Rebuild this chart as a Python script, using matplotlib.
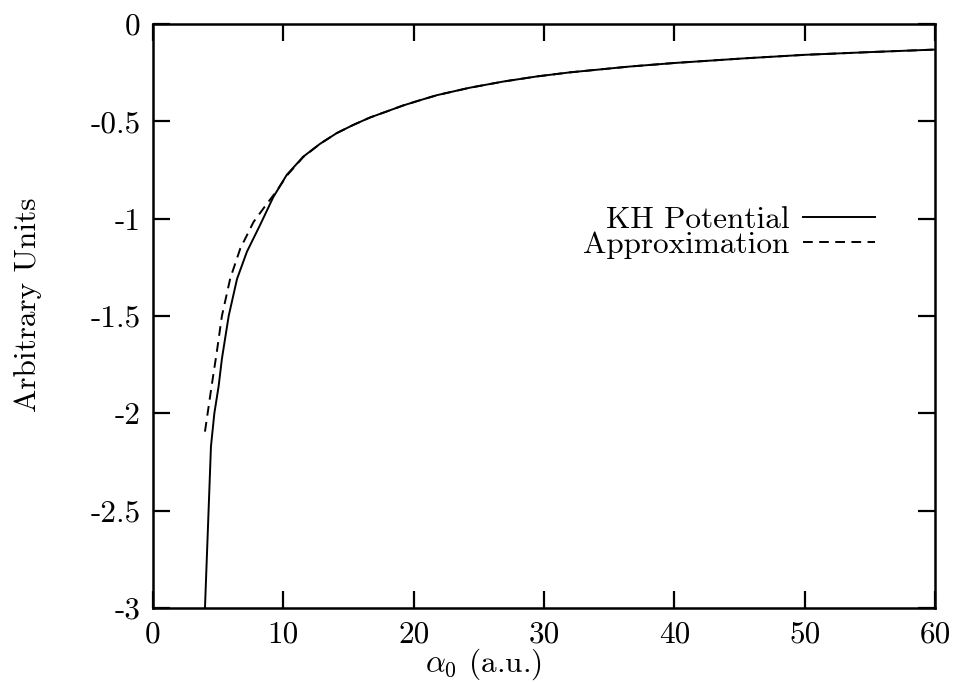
import matplotlib
matplotlib.use("Agg")
import matplotlib.pyplot as plt

# KH potential and its approximation versus alpha_0 (a.u.)
kh_x = [3.99, 4.45, 4.71, 5.04, 5.29, 5.81, 6.45, 7.21, 8.24, 9.23,
        10.26, 11.53, 12.82, 14.1, 15.37, 16.65, 17.93, 19.2, 20.4, 21.8,
        24.3, 26.9, 29.45, 32, 36.6, 40, 45.4, 50, 55, 60]
kh_y = [-3.0, -2.17, -2.0, -1.86, -1.72, -1.50, -1.31, -1.17, -1.03,
        -0.89, -0.776, -0.682, -0.616, -0.561, -0.519, -0.481, -0.450, -0.419,
        -0.394, -0.366, -0.328, -0.296, -0.270, -0.249, -0.219, -0.201,
        -0.177, -0.159, -0.145, -0.132]

approx_x = [3.99, 4.5, 4.91, 5.29, 5.93, 6.70, 7.72, 8.75, 9.5, 10.26, 11.53,
            12.82, 14.1, 15.37, 16.65, 17.93, 19.2, 20.4, 21.8, 24.3, 26.9,
            29.45, 32, 36.6, 40, 45.4, 50, 55, 60]
approx_y = [-2.094, -1.86, -1.68, -1.50, -1.307, -1.154, -1.017, -0.923,
            -0.858, -0.78, -0.684, -0.616, -0.561, -0.519, -0.481, -0.450,
            -0.419, -0.394, -0.366, -0.328, -0.296, -0.270, -0.249, -0.219,
            -0.201, -0.177, -0.159, -0.145, -0.132]

x_ticks = [0, 10, 20, 30, 40, 50, 60]
x_tick_labels = ["0", "10", "20", "30", "40", "50", "60"]
y_ticks = [0, -0.5, -1, -1.5, -2, -2.5, -3]
y_tick_labels = ["0", "-0.5", "-1", "-1.5", "-2", "-2.5", "-3"]

FS = 22.5

plt.rcParams["font.family"] = "serif"
plt.rcParams["font.serif"] = ["cmr10"]
plt.rcParams["mathtext.fontset"] = "cm"
plt.rcParams["axes.formatter.use_mathtext"] = True
plt.rcParams["font.size"] = FS


def main():
    fig = plt.figure(figsize=(9.56, 6.82), dpi=100)
    ax = fig.add_axes([0.160, 0.1085, 0.818, 0.8565])

    ax.plot(kh_x, kh_y, color="black", lw=1.4, label="KH Potential")
    ax.plot(approx_x, approx_y, color="black", lw=1.4,
            linestyle=(0, (5, 3.3)), label="Approximation")

    ax.set_xlim(0, 60)
    ax.set_ylim(-3, 0)
    ax.set_xticks(x_ticks)
    ax.set_xticklabels(x_tick_labels)
    ax.set_yticks(y_ticks)
    ax.set_yticklabels(y_tick_labels)
    ax.tick_params(direction="in", length=12, width=1.6, pad=9,
                   top=True, right=True, labelsize=FS)

    for spine in ax.spines.values():
        spine.set_linewidth(1.8)

    ax.set_xlabel(r"$\alpha_0$ (a.u.)", fontsize=FS)
    ax.xaxis.set_label_coords(0.423, -0.066)
    ax.set_ylabel("Arbitrary Units", fontsize=FS)
    ax.yaxis.set_label_coords(-0.142, 0.52)

    ax.legend(loc="center right", bbox_to_anchor=(0.923, 0.643),
              markerfirst=False, frameon=False, fontsize=FS,
              handlelength=2.3, handletextpad=0.42, labelspacing=-0.08,
              borderpad=0, borderaxespad=0)

    fig.savefig("out.png", dpi=100)


if __name__ == "__main__":
    main()
